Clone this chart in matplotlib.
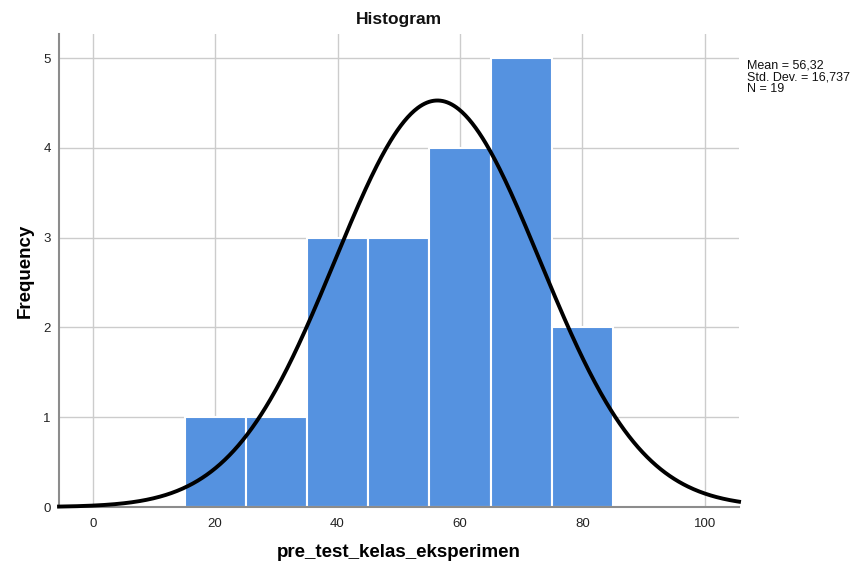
import numpy as np
import matplotlib
matplotlib.use("Agg")
import matplotlib.pyplot as plt

plt.rcParams['font.family'] = ['Liberation Sans', 'DejaVu Sans']

bin_edges = [15, 25, 35, 45, 55, 65, 75, 85]
counts = [1, 1, 3, 3, 4, 5, 2]
mean = 56.32
sd = 16.737
n = 19
x_ticks = [0, 20, 40, 60, 80, 100]
y_ticks = [0, 1, 2, 3, 4, 5]
stats_text = 'Mean = 56,32\nStd. Dev. = 16,737\nN = 19'

fig = plt.figure(figsize=(8.53, 5.70), dpi=100)
ax = fig.add_axes([0.0692, 0.1105, 0.7972, 0.8299])

lefts = bin_edges[:-1]
widths = np.diff(bin_edges)
ax.bar(lefts, counts, width=widths, align='edge', color='#5592E0',
       edgecolor='white', linewidth=1.5, zorder=2)

xs = np.linspace(-5.5, 105.6, 600)
bw = bin_edges[1] - bin_edges[0]
ys = n * bw / (sd * np.sqrt(2 * np.pi)) * np.exp(-0.5 * ((xs - mean) / sd) ** 2)
ax.plot(xs, ys, color='black', linewidth=2.8, zorder=3, clip_on=False)

ax.set_xlim(-5.5, 105.6)
ax.set_ylim(0, 5.27)
ax.set_xticks(x_ticks)
ax.set_yticks(y_ticks)
ax.grid(True, color='#cccccc', linewidth=1.0, zorder=0)
ax.set_axisbelow(True)
for s in ['top', 'right']:
    ax.spines[s].set_visible(False)
for s in ['left', 'bottom']:
    ax.spines[s].set_color('#8c8c8c')
    ax.spines[s].set_linewidth(1.5)
ax.tick_params(axis='x', length=0, labelsize=9.5, colors='#222222', pad=8)
ax.tick_params(axis='y', length=0, labelsize=9.5, colors='#222222', pad=6)

ax.set_title('Histogram', fontsize=12.5, fontweight='bold', pad=7, color='#111111')
ax.set_xlabel('pre_test_kelas_eksperimen', fontsize=13.5, fontweight='bold', labelpad=10)
ax.set_ylabel('Frequency', fontsize=13.5, fontweight='bold', labelpad=7)

fig.text(747 / 853, 1 - 59 / 570, stats_text,
         fontsize=9, va='top', ha='left', linespacing=1.0, color='#111111')

fig.savefig('out.png', dpi=100)
